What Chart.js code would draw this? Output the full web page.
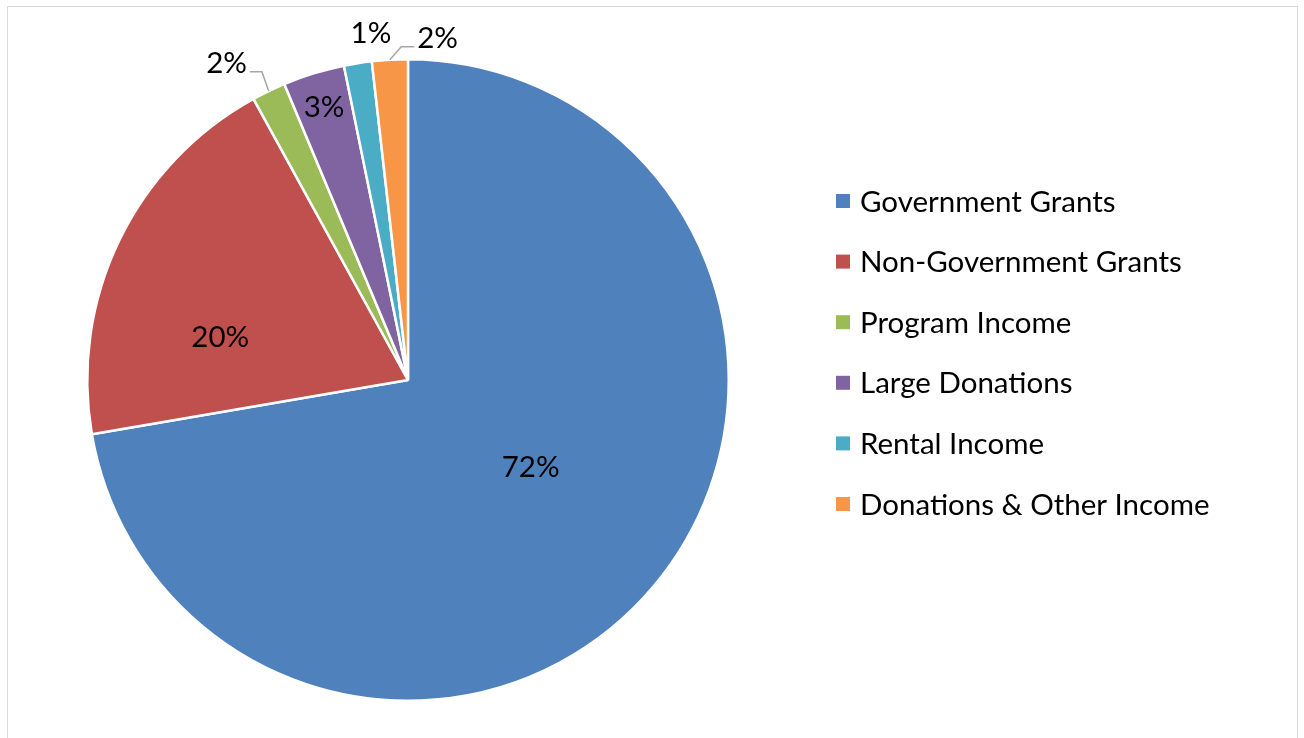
<!DOCTYPE html>
<html><head><meta charset="utf-8">
<script src="https://cdn.jsdelivr.net/npm/chart.js@4/dist/chart.umd.min.js"></script>
<style>
html,body{margin:0;padding:0;background:#fff;overflow:hidden}
#frame{position:absolute;left:7px;top:6px;width:1291px;height:760px;border:1px solid #d9d9d9;box-sizing:border-box}
#wrap{position:absolute;left:0;top:0;width:1304px;height:738px}
</style></head><body>
<div id="frame"></div>
<div id="wrap"><canvas id="c" width="1304" height="738"></canvas></div>
<script>
// ---- data ----
const categories = ["Government Grants","Non-Government Grants","Program Income","Large Donations","Rental Income","Donations & Other Income"];
const shares = [72.3, 19.7, 1.7, 3.1, 1.4, 1.8];
const colors = ["#4F81BD","#C0504D","#9BBB59","#8064A2","#4BACC6","#F79646"];
// label placement (angle shift in degrees from slice middle, radius factor, leader line)
const labelShift = [-4.6, -13, -4.1, 0, 2.9, 8.2];
const labelRadius = [0.47, 0.60, 1.137, 0.89, 1.087, 1.068];
const labelLeader = [false, false, true, false, false, true];

const FONT = "29.5px Lato, 'Open Sans', sans-serif";

const sliceLabels = {
  id: 'sliceLabels',
  afterDatasetsDraw(chart) {
    const ctx = chart.ctx;
    const meta = chart.getDatasetMeta(0);
    const total = shares.reduce((a, b) => a + b, 0);
    ctx.save();
    ctx.font = FONT;
    ctx.textAlign = 'center';
    ctx.textBaseline = 'middle';
    meta.data.forEach((arc, i) => {
      const p = arc.getProps(['x','y','startAngle','endAngle','outerRadius'], true);
      const mid = (p.startAngle + p.endAngle) / 2;
      const a = mid + labelShift[i] * Math.PI / 180;
      const rr = p.outerRadius * labelRadius[i];
      const lx = p.x + Math.cos(a) * rr, ly = p.y + Math.sin(a) * rr;
      const txt = Math.round(shares[i] / total * 100) + '%';
      if (labelLeader[i]) {
        const w = ctx.measureText(txt).width;
        const ax = p.x + Math.cos(mid) * p.outerRadius, ay = p.y + Math.sin(mid) * p.outerRadius;
        let cx, bx;
        if (ax > lx) { cx = lx + w / 2 + 3; bx = cx + 12; } else { cx = lx - w / 2 - 3; bx = cx - 13; }
        const cy = ly + 8;
        ctx.strokeStyle = '#A6A6A6';
        ctx.lineWidth = 1.5;
        ctx.beginPath();
        ctx.moveTo(cx, cy); ctx.lineTo(bx, cy); ctx.lineTo(ax, ay);
        ctx.stroke();
      }
      ctx.fillStyle = '#000';
      ctx.fillText(txt, lx, ly);
    });
    ctx.restore();
  }
};

const sideLegend = {
  id: 'sideLegend',
  afterDraw(chart) {
    const ctx = chart.ctx;
    const ds = chart.data.datasets[0];
    ctx.save();
    ctx.font = FONT;
    ctx.textAlign = 'left';
    ctx.textBaseline = 'middle';
    chart.data.labels.forEach((lab, i) => {
      const cy = 201 + i * 60.6;
      ctx.fillStyle = ds.backgroundColor[i];
      ctx.fillRect(836, cy - 7, 14, 14);
      ctx.fillStyle = '#000';
      ctx.fillText(lab, 860, cy + 1);
    });
    ctx.restore();
  }
};

new Chart(document.getElementById('c'), {
  type: 'pie',
  data: {
    labels: categories,
    datasets: [{
      data: shares,
      backgroundColor: colors,
      borderColor: '#ffffff',
      borderWidth: 2.5
    }]
  },
  options: {
    responsive: false,
    animation: false,
    layout: { padding: { left: 86, right: 574, top: 58, bottom: 36 } },
    plugins: { legend: { display: false }, tooltip: { enabled: false } }
  },
  plugins: [sliceLabels, sideLegend]
});
</script>
</body></html>
